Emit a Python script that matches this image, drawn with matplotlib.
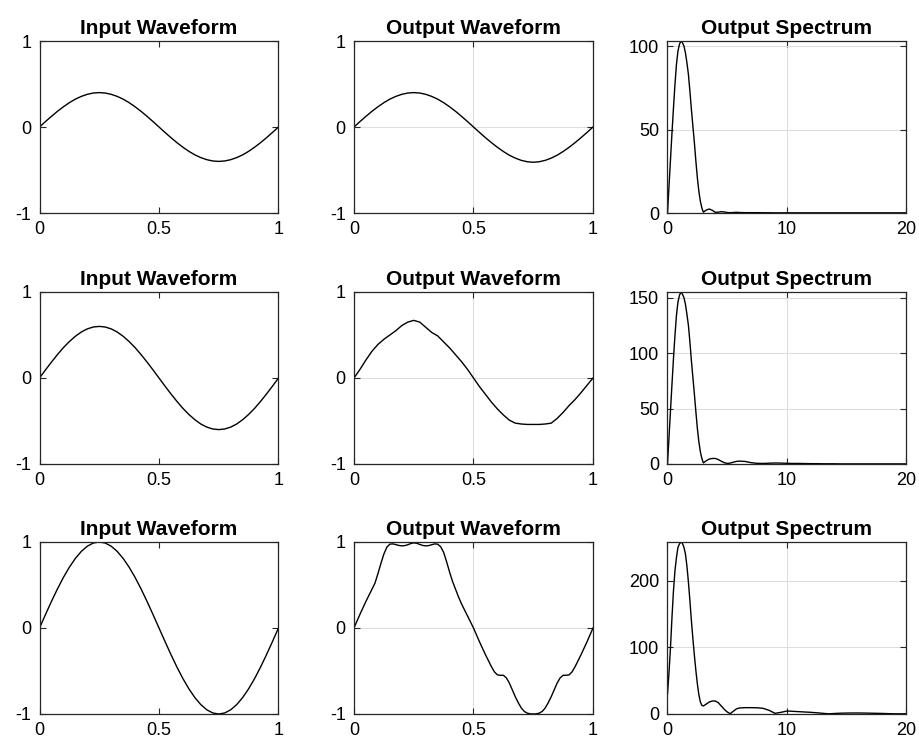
import numpy as np
import matplotlib
matplotlib.use("Agg")
import matplotlib.pyplot as plt

plt.rcParams['font.family'] = ['Liberation Sans', 'DejaVu Sans']
plt.rcParams['axes.unicode_minus'] = False

# time axes of the waveforms (one period)
t = np.linspace(0, 1, 41)
t_fine = np.linspace(0, 1, 81)

input_1 = [0, 0.063, 0.124, 0.182, 0.235, 0.283, 0.324, 0.356, 0.380, 0.395, 0.400,
           0.395, 0.380, 0.356, 0.324, 0.283, 0.235, 0.182, 0.124, 0.063, 0,
           -0.063, -0.124, -0.182, -0.235, -0.283, -0.324, -0.356, -0.380, -0.395, -0.400,
           -0.395, -0.380, -0.356, -0.324, -0.283, -0.235, -0.182, -0.124, -0.063, 0]
input_2 = [0, 0.094, 0.185, 0.272, 0.353, 0.424, 0.485, 0.535, 0.571, 0.593, 0.600,
           0.593, 0.571, 0.535, 0.485, 0.424, 0.353, 0.272, 0.185, 0.094, 0,
           -0.094, -0.185, -0.272, -0.353, -0.424, -0.485, -0.535, -0.571, -0.593, -0.600,
           -0.593, -0.571, -0.535, -0.485, -0.424, -0.353, -0.272, -0.185, -0.094, 0]
input_3 = [0, 0.156, 0.309, 0.454, 0.588, 0.707, 0.809, 0.891, 0.951, 0.988, 1.000,
           0.988, 0.951, 0.891, 0.809, 0.707, 0.588, 0.454, 0.309, 0.156, 0,
           -0.156, -0.309, -0.454, -0.588, -0.707, -0.809, -0.891, -0.951, -0.988, -1.000,
           -0.988, -0.951, -0.891, -0.809, -0.707, -0.588, -0.454, -0.309, -0.156, 0]

output_1 = [0, 0.063, 0.124, 0.182, 0.235, 0.283, 0.324, 0.356, 0.380, 0.395, 0.400,
            0.395, 0.380, 0.356, 0.324, 0.283, 0.235, 0.182, 0.124, 0.063, 0,
            -0.063, -0.124, -0.182, -0.236, -0.285, -0.328, -0.362, -0.388, -0.404, -0.410,
            -0.404, -0.388, -0.362, -0.328, -0.285, -0.236, -0.182, -0.124, -0.063, 0]
output_2 = [0, 0.10, 0.21, 0.31, 0.39, 0.45, 0.50, 0.55, 0.61, 0.65, 0.67,
            0.65, 0.59, 0.53, 0.49, 0.42, 0.35, 0.27, 0.19, 0.10, 0,
            -0.10, -0.19, -0.28, -0.36, -0.43, -0.49, -0.525, -0.535, -0.54, -0.54,
            -0.54, -0.535, -0.525, -0.47, -0.40, -0.32, -0.25, -0.17, -0.085, 0]
# sampled on t_fine
output_3 = [0, 0.08, 0.16, 0.235, 0.31, 0.38, 0.45, 0.52, 0.63, 0.75,
            0.86, 0.94, 0.975, 0.978, 0.97, 0.96, 0.955, 0.958, 0.968, 0.982,
            0.99, 0.985, 0.972, 0.96, 0.955, 0.958, 0.968, 0.978, 0.975, 0.945,
            0.88, 0.77, 0.65, 0.54, 0.45, 0.36, 0.28, 0.21, 0.14, 0.07,
            0, -0.08, -0.16, -0.235, -0.31, -0.38, -0.45, -0.51, -0.545, -0.55,
            -0.55, -0.58, -0.64, -0.72, -0.80, -0.87, -0.93, -0.97, -0.99, -0.998,
            -1.0, -0.998, -0.99, -0.97, -0.93, -0.87, -0.80, -0.72, -0.64, -0.58,
            -0.55, -0.55, -0.545, -0.51, -0.45, -0.38, -0.31, -0.235, -0.16, -0.08,
            0]

freq = [0, 0.125, 0.25, 0.375, 0.5, 0.625, 0.75, 0.875, 1.0, 1.125, 1.25, 1.375,
        1.5, 1.625, 1.75, 1.875, 2.0, 2.125, 2.25, 2.375, 2.5, 2.625, 2.75, 2.875,
        3.0, 3.25, 3.5, 3.75, 4.0, 4.25, 4.5, 4.75, 5.0, 5.25, 5.5, 5.75, 6.0,
        6.5, 7.0, 7.5, 8.0, 8.5, 9.0, 9.5, 10.0, 10.5, 11.0, 11.5, 12.0, 12.5,
        13.0, 13.5, 14.0, 14.5, 15.0, 15.5, 16.0, 16.5, 17.0, 17.5, 18.0, 18.5,
        19.0, 19.5, 20.0]
spec_1 = [0, 16, 32, 48, 63, 77, 89, 97, 101, 103, 102, 100,
          96, 90, 83, 73, 62, 52, 42, 31, 21, 13, 7, 3,
          0.5, 1.8, 2.4, 1.6, 0.4, 0.5, 0.8, 0.6, 0.3, 0.2, 0.3, 0.4, 0.3,
          0.2, 0.2, 0.2, 0.15, 0.15, 0.1, 0.1, 0.1, 0.1, 0.1, 0.1, 0.1, 0.1,
          0.1, 0.1, 0.1, 0.1, 0.1, 0.1, 0.1, 0.1, 0.1, 0.1, 0.1, 0.1,
          0.1, 0.1, 0.1]
spec_2 = [0, 24, 48, 72, 95, 116, 134, 146, 152, 155, 153, 150,
          144, 135, 125, 110, 93, 78, 63, 47, 32, 20, 11, 5,
          1, 3, 4.5, 5, 5, 4, 2.5, 1.2, 0.5, 0.8, 1.6, 2.3, 2.6,
          2.3, 1.2, 0.6, 0.5, 0.7, 0.9, 0.8, 0.6, 0.5, 0.5, 0.4, 0.3, 0.3,
          0.2, 0.2, 0.2, 0.1, 0.1, 0.1, 0.1, 0.1, 0.1, 0.1, 0.1, 0.1,
          0.1, 0.1, 0.1]
spec_3 = [30, 62, 100, 145, 185, 215, 235, 250, 255, 258, 256, 250,
          240, 222, 198, 170, 140, 113, 88, 65, 45, 29, 18, 13,
          12, 15, 18, 19.5, 19.5, 17, 12, 7, 3, 0.5, 4, 7.5, 9,
          9.5, 9.5, 9.3, 8.5, 5.5, 1.0, 2.5, 4.5, 4.0, 3.5, 3.0, 2.5, 1.8,
          1.0, 0.3, 0.8, 1.2, 1.4, 1.5, 1.5, 1.4, 1.2, 1.0, 0.8, 0.5,
          0.3, 0.3, 0.3]

spec_ticks = [[0, 50, 100], [0, 50, 100, 150], [0, 100, 200]]

inputs = [input_1, input_2, input_3]
outputs = [(t, output_1), (t, output_2), (t_fine, output_3)]
spectra = [spec_1, spec_2, spec_3]

W, H = 920, 747
lefts = [39.5, 354, 667.5]
tops = [41, 292, 542]
aw, ah = 239, 172

grid_col = '#dedede'


def style(ax, grid):
    ax.tick_params(direction='in', top=True, right=True, length=4, width=0.8,
                   labelsize=13, pad=6, colors='#262626', labelcolor='black')
    for s in ax.spines.values():
        s.set_linewidth(0.9)
        s.set_color('#262626')
    if grid:
        ax.grid(True, color=grid_col, linewidth=0.8)
        ax.set_axisbelow(True)


fig = plt.figure(figsize=(W / 100, H / 100), dpi=100)

for r in range(3):
    bottom = 1 - (tops[r] + ah) / H
    axes = [fig.add_axes([lefts[c] / W, bottom, aw / W, ah / H]) for c in range(3)]

    ax = axes[0]
    ax.plot(t, inputs[r], color='black', linewidth=1)
    ax.set_xlim(0, 1)
    ax.set_ylim(-1, 1)
    ax.set_xticks([0, 0.5, 1], ['0', '0.5', '1'])
    ax.set_yticks([-1, 0, 1], ['-1', '0', '1'])
    ax.set_title('Input Waveform', fontsize=15, fontweight='bold', pad=5)
    style(ax, False)

    ax = axes[1]
    tt, yy = outputs[r]
    ax.plot(tt, yy, color='black', linewidth=1)
    ax.set_xlim(0, 1)
    ax.set_ylim(-1, 1)
    ax.set_xticks([0, 0.5, 1], ['0', '0.5', '1'])
    ax.set_yticks([-1, 0, 1], ['-1', '0', '1'])
    ax.set_title('Output Waveform', fontsize=15, fontweight='bold', pad=5)
    style(ax, True)

    ax = axes[2]
    ax.plot(freq, spectra[r], color='black', linewidth=1)
    ax.set_xlim(0, 20)
    ax.set_ylim(0, max(spectra[r]))
    ax.set_xticks([0, 10, 20])
    ax.set_yticks(spec_ticks[r])
    ax.set_title('Output Spectrum', fontsize=15, fontweight='bold', pad=5)
    style(ax, True)

fig.savefig('out.png', dpi=100)
